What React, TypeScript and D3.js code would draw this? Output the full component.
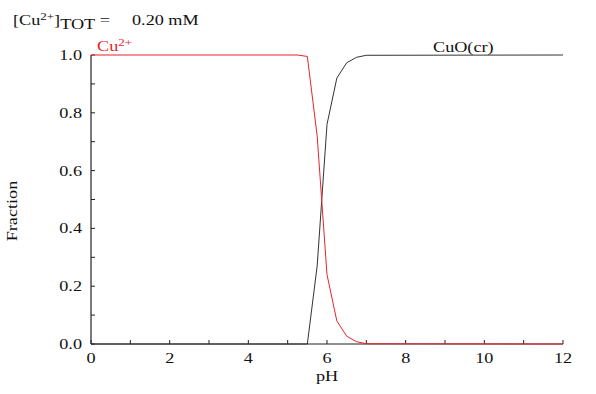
import React, { useEffect, useRef } from 'react';
import * as d3 from 'd3';

// pH sample points and species fractions
const phValues = [0, 5.25, 5.5, 5.75, 6, 6.25, 6.5, 6.75, 7, 12];
const cuIon = [1, 1, 0.995, 0.72, 0.24, 0.08, 0.027, 0.008, 0.001, 0];
const cuOxide = [0, 0, 0, 0.27, 0.76, 0.92, 0.973, 0.992, 0.999, 1];

const xTicks = [0, 1, 2, 3, 4, 5, 6, 7, 8, 9, 10, 11, 12];
const xLabels = [0, 2, 4, 6, 8, 10, 12];
const yTicks = [0, 0.1, 0.2, 0.3, 0.4, 0.5, 0.6, 0.7, 0.8, 0.9, 1];
const yLabels = [0, 0.2, 0.4, 0.6, 0.8, 1];

const RED = '#e8232b';
const FONT = '"Liberation Serif", "DejaVu Serif", serif';
const SX = 1.3; // the source text is stretched horizontally

export default function App() {
  const svgRef = useRef<SVGSVGElement>(null);

  useEffect(() => {
    if (!svgRef.current) return;
    const svg = d3.select(svgRef.current);
    svg.selectAll('*').remove();

    const x = d3.scaleLinear().domain([0, 12]).range([91, 563]);
    const y = d3.scaleLinear().domain([0, 1]).range([344, 55]);

    const g = svg.append('g').attr('font-family', FONT).attr('font-size', 14).attr('fill', '#111');

    const txt = (px: number, py: number, anchor = 'start', rot = 0) =>
      g.append('text')
        .attr('transform', `translate(${px},${py}) rotate(${rot}) scale(${SX},1)`)
        .attr('text-anchor', anchor);

    // axes lines
    g.append('line').attr('x1', x(0)).attr('x2', x(12)).attr('y1', y(0)).attr('y2', y(0))
      .attr('stroke', '#222').attr('stroke-width', 1.2);
    g.append('line').attr('x1', x(0)).attr('x2', x(0)).attr('y1', y(0)).attr('y2', y(1))
      .attr('stroke', '#222').attr('stroke-width', 1.2);

    // inward ticks
    g.selectAll('line.xt').data(xTicks).join('line').attr('class', 'xt')
      .attr('x1', d => x(d)).attr('x2', d => x(d)).attr('y1', y(0)).attr('y2', y(0) - 4)
      .attr('stroke', '#222').attr('stroke-width', 1);
    g.selectAll('line.yt').data(yTicks).join('line').attr('class', 'yt')
      .attr('x1', x(0)).attr('x2', x(0) + 4).attr('y1', d => y(d)).attr('y2', d => y(d))
      .attr('stroke', '#222').attr('stroke-width', 1);

    xLabels.forEach(d => txt(x(d), 363, 'middle').text(String(d)));
    yLabels.forEach(d => txt(x(0) - 9, y(d) + 5, 'end').text(d.toFixed(1)));

    txt(x(6), 381, 'middle').text('pH');
    txt(17, 211, 'middle', -90).text('Fraction');

    // species lines
    const line = d3.line<number>().x((_, i) => x(phValues[i])).y(d => y(d));
    g.append('path').datum(cuOxide).attr('d', line).attr('fill', 'none')
      .attr('stroke', '#333').attr('stroke-width', 1);
    g.append('path').datum(cuIon).attr('d', line).attr('fill', 'none')
      .attr('stroke', RED).attr('stroke-width', 1);

    // species labels
    const cu = txt(97, 51).attr('fill', RED);
    cu.append('tspan').text('Cu');
    cu.append('tspan').attr('dy', -5).attr('font-size', 10).text('2+');
    txt(433, 52).text('CuO(cr)');

    // concentration header
    const hd = txt(13, 25);
    hd.append('tspan').text('[Cu');
    hd.append('tspan').attr('dy', -5).attr('font-size', 10).text('2+');
    hd.append('tspan').attr('dy', 5).text(']');
    hd.append('tspan').attr('dy', 4).text('TOT');
    hd.append('tspan').attr('dy', -4).text(' =');
    txt(132, 25).text('0.20 mM');
  }, []);

  return (
    <svg ref={svgRef} width={596} height={394}
      style={{ position: 'absolute', left: 0, top: 0, background: '#fff' }} />
  );
}
